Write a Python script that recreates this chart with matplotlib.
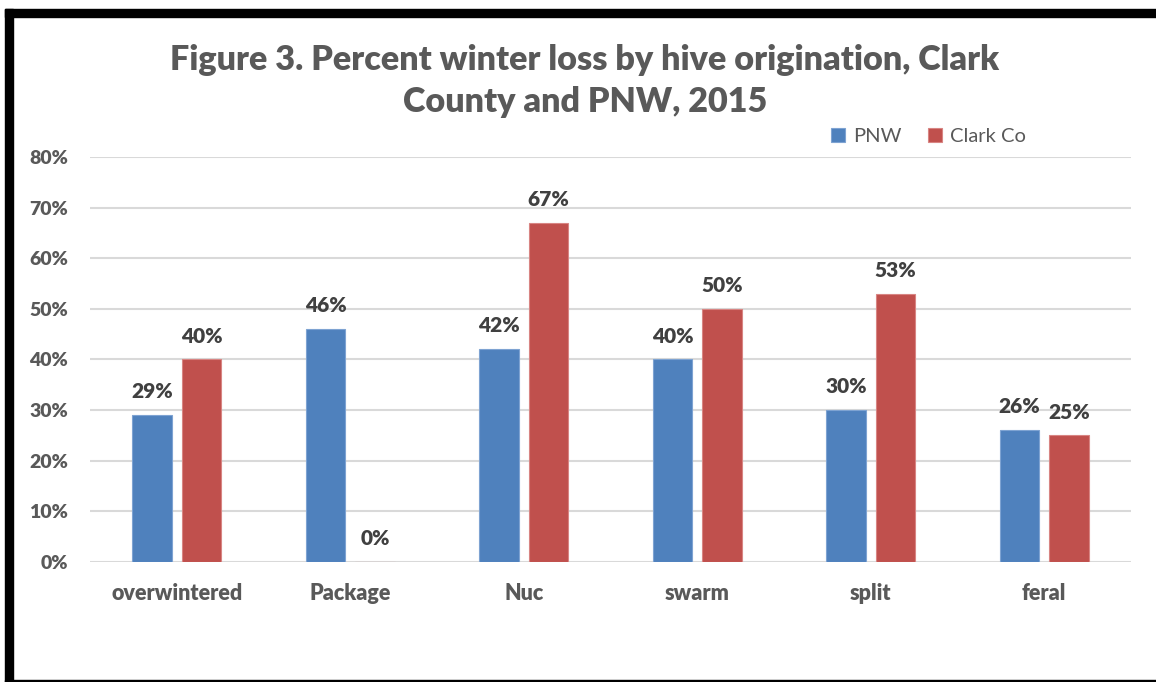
import numpy as np
import matplotlib.pyplot as plt
from matplotlib.patches import Rectangle

# Data
categories = ["overwintered", "Package", "Nuc", "swarm", "split", "feral"]
pnw = [29, 46, 42, 40, 30, 26]
clark = [40, 0, 67, 50, 53, 25]
yticks = [0, 10, 20, 30, 40, 50, 60, 70, 80]

blue = "#4F81BD"
red = "#C0504D"
grey = "#595959"
dark = "#404040"
wt = "heavy"

plt.rcParams['font.family'] = ['Lato', 'DejaVu Sans']

fig = plt.figure(figsize=(11.56, 6.82), dpi=100)
ax = fig.add_axes([0.0779, 0.176, 0.9005, 0.5938])

x = np.arange(len(categories))
w = 0.228
off = 0.143
b1 = ax.bar(x - off, pnw, w, color=blue, edgecolor="#7EA3D2", linewidth=0.8, label="PNW", zorder=3)
b2 = ax.bar(x + off, clark, w, color=red, edgecolor="#D88583", linewidth=0.8, label="Clark Co", zorder=3)

for bars, vals in ((b1, pnw), (b2, clark)):
    for rect, v in zip(bars, vals):
        ax.annotate(f"{v}%", (rect.get_x() + rect.get_width() / 2, v),
                    xytext=(0, 10), textcoords="offset points",
                    ha="center", va="bottom", fontsize=15, fontweight=wt, color=dark)

ax.set_xlim(-0.5, len(categories) - 0.5)
ax.set_ylim(0, 80)
ax.set_yticks(yticks)
ax.set_yticklabels([f"{v}%" for v in yticks])
ax.set_xticks(x)
ax.set_xticklabels(categories)
ax.tick_params(axis="both", length=0, labelcolor=grey)
ax.tick_params(axis="y", labelsize=14, pad=16)
ax.tick_params(axis="x", labelsize=15.5, pad=15)
for lab in ax.get_xticklabels() + ax.get_yticklabels():
    lab.set_fontweight(wt)

ax.grid(axis="y", color="#D9D9D9", linewidth=1.5, zorder=0)
for s in ax.spines.values():
    s.set_visible(False)

fig.text(0.506, 0.881, "Figure 3. Percent winter loss by hive origination, Clark\nCounty and PNW, 2015",
         ha="center", va="center", fontsize=24.6, fontweight=wt, color=grey, linespacing=1.4)

ax.legend(loc="lower left", bbox_to_anchor=(0.70, 1.0), ncol=2, frameon=False,
          fontsize=14.5, labelcolor=grey, handlelength=0.7, handleheight=0.7,
          handletextpad=0.4, columnspacing=1.3, borderaxespad=0.2)

# black frame around the picture
W, H = 1156, 682
fig.add_artist(Rectangle((5 / W, 1 - 17 / H), 1 - 5 / W, 8 / H, transform=fig.transFigure, color="black"))
fig.add_artist(Rectangle((5 / W, 0), 8 / W, 1 - 9 / H, transform=fig.transFigure, color="black"))
fig.add_artist(Rectangle((5 / W, 0), 1 - 5 / W, 2 / H, transform=fig.transFigure, color="black"))

fig.savefig("out.png", dpi=100)
